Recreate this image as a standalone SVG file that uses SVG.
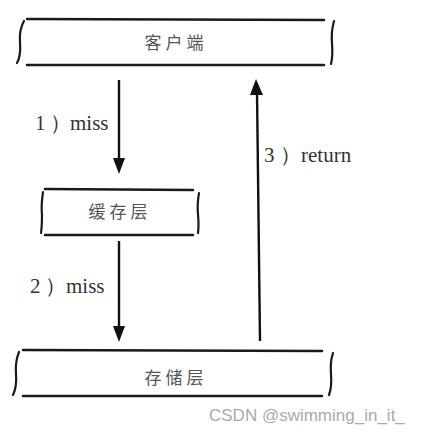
<svg xmlns="http://www.w3.org/2000/svg" width="439" height="434" viewBox="0 0 439 434">
<style>
.ln{stroke:#1a1a1a;stroke-width:2.5;fill:none;stroke-linecap:round}
.ar{stroke:#111;stroke-width:2.4;fill:none}
.hd{fill:#111}
.br{stroke:#1a1a1a;stroke-width:2.2;fill:none;stroke-linecap:round}
.cn{font-family:"Noto Sans CJK SC","Noto Sans",sans-serif;font-size:17px;fill:#555;text-anchor:middle;letter-spacing:4px}
.lb{font-family:"Liberation Serif","DejaVu Serif",serif;font-size:21px;fill:#333}
.wm{font-family:"Liberation Sans","DejaVu Sans",sans-serif;font-size:17px;fill:#aaa}
</style>
<rect width="439" height="434" fill="#fff"/>
<g id="client">
<path class="ln" d="M27,19 L324,20"/>
<path class="ln" d="M27,65 L324,65"/>
<path class="br" d="M24,21 Q19,30 20,42 Q21,56 17,63"/>
<path class="br" d="M334,21 Q331,32 332,43 Q333,56 331,64"/>
<text class="cn" x="176" y="49">客户端</text>
</g>
<g id="cache">
<path class="ln" d="M45,189 L193,190"/>
<path class="ln" d="M45,235 L193,235"/>
<path class="br" d="M43,192 Q41,205 42,215 Q42,226 41,233"/>
<path class="br" d="M199,193 Q197,205 198,214 Q199,226 198,233"/>
<text class="cn" x="120" y="218">缓存层</text>
</g>
<g id="storage">
<path class="ln" d="M23,350 L322,351"/>
<path class="ln" d="M23,396 L322,396"/>
<path class="br" d="M19,352 Q15,362 16,374 Q17,387 13,395"/>
<path class="br" d="M333,353 Q330,362 331,374 Q332,387 329,395"/>
<text class="cn" x="176" y="384">存储层</text>
</g>
<g id="connectors">
<path class="ar" d="M119,80 L119,160"/>
<polygon class="hd" points="113,158 125,158 119,174"/>
<path class="ar" d="M119,241 L119,328"/>
<polygon class="hd" points="113,326 125,326 119,342"/>
<path class="ar" d="M260,341 L257,92"/>
<polygon class="hd" points="250,95 263,95 256,79"/>
<text class="lb" y="130"><tspan x="35">1</tspan><tspan x="50">）</tspan><tspan x="70">miss</tspan></text>
<text class="lb" y="293"><tspan x="30">2</tspan><tspan x="45">）</tspan><tspan x="66">miss</tspan></text>
<text class="lb" y="162"><tspan x="264">3</tspan><tspan x="280">）</tspan><tspan x="301">return</tspan></text>
</g>
<text class="wm" x="209" y="421">CSDN @swimming_in_it_</text>
</svg>
